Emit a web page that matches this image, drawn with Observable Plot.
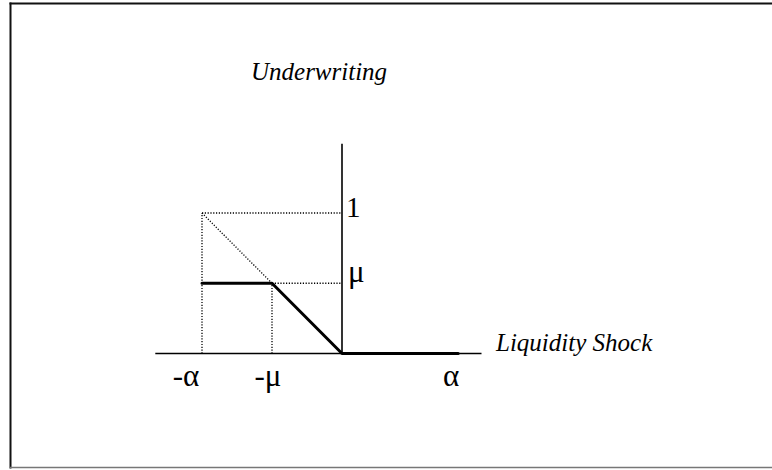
<!DOCTYPE html>
<html>
<head>
<meta charset="utf-8">
<script src="https://cdn.jsdelivr.net/npm/d3@7"></script>
<script src="https://cdn.jsdelivr.net/npm/@observablehq/plot@0.6"></script>
<style>
  html, body { margin: 0; padding: 0; background: #fff; }
  svg { display: block; }
</style>
</head>
<body>
<div id="chart"></div>
<script>
// parameters (alpha = 1, mu = 0.5 in plot units)
const alpha = 1;
const mu = 0.5;

// axes extents
const horizAxisX = [-1.33, 1.0];
const vertAxisY = [0, 1.49];

// payoff (thick) line
const payoffX = [-alpha, -mu, 0, 0.83];
const payoffY = [mu, mu, 0, 0];

// dotted guide segments
const guideX1 = [-alpha, -alpha, -alpha, -mu, -mu];
const guideY1 = [1, 0, 1, mu, 0];
const guideX2 = [0, -alpha, -mu, 0, -mu];
const guideY2 = [1, 1, mu, mu, mu];

// tick labels below the horizontal axis
const tickLabels = ["-α", "-μ", "α"];
const tickLabelX = [-1.114, -0.529, 0.779];
const tickLabelY = [-0.234, -0.234, -0.234];

// labels next to the vertical axis
const vLabels = ["1", "μ"];
const vLabelY = [1, mu];

// axis titles
const yTitle = "Underwriting";
const yTitleX = -0.164;
const yTitleY = 1.95;
const xTitle = "Liquidity Shock";
const xTitleX = 1.1;
const xTitleY = 0.02;

const guides = guideX1.map((x1, i) => ({x1, y1: guideY1[i], x2: guideX2[i], y2: guideY2[i]}));
const payoff = payoffX.map((x, i) => ({x, y: payoffY[i]}));
const ticks = tickLabels.map((t, i) => ({t, x: tickLabelX[i], y: tickLabelY[i]}));
const vlabs = vLabels.map((t, i) => ({t, x: 0, y: vLabelY[i]}));

const font = "Liberation Serif";

const plot = Plot.plot({
  width: 772,
  height: 470,
  marginTop: 3,
  marginLeft: 10,
  marginRight: 0,
  marginBottom: 3,
  x: {domain: [-1, 1], range: [201.5, 481.5], axis: null},
  y: {domain: [0, 1], range: [353, 212.5], axis: null},
  style: {fontFamily: font, background: "#fff"},
  marks: [
    Plot.frame({anchor: "top", stroke: "#111", strokeWidth: 2}),
    Plot.frame({anchor: "left", stroke: "#111", strokeWidth: 2}),
    Plot.frame({anchor: "bottom", stroke: "#777", strokeWidth: 1.5}),
    Plot.link(guides, {x1: "x1", y1: "y1", x2: "x2", y2: "y2", stroke: "#000", strokeWidth: 1.3, strokeDasharray: "1.2,1.6"}),
    Plot.ruleY([0], {x1: horizAxisX[0], x2: horizAxisX[1], stroke: "#000", strokeWidth: 1.6}),
    Plot.ruleX([0], {y1: vertAxisY[0], y2: vertAxisY[1], stroke: "#000", strokeWidth: 1.6}),
    Plot.line(payoff, {x: "x", y: "y", stroke: "#000", strokeWidth: 3}),
    Plot.text(ticks, {x: "x", y: "y", text: "t", fontSize: 31, fontFamily: font, lineAnchor: "bottom", textAnchor: "middle", fill: "#000"}),
    Plot.text(vlabs.slice(0, 1), {x: "x", y: "y", text: "t", fontSize: 29, fontFamily: font, lineAnchor: "bottom", textAnchor: "start", dx: 4, dy: 4, fill: "#000"}),
    Plot.text(vlabs.slice(1), {x: "x", y: "y", text: "t", fontSize: 31, fontFamily: font, lineAnchor: "bottom", textAnchor: "start", dx: 6, dy: -1, fill: "#000"}),
    Plot.text([yTitle], {x: yTitleX, y: yTitleY, text: (d) => d, fontSize: 25, fontFamily: font, fontStyle: "italic", lineAnchor: "bottom", textAnchor: "middle", fill: "#000"}),
    Plot.text([xTitle], {x: xTitleX, y: xTitleY, text: (d) => d, fontSize: 25, fontFamily: font, fontStyle: "italic", lineAnchor: "bottom", textAnchor: "start", fill: "#000"})
  ]
});

document.getElementById("chart").appendChild(plot);
</script>
</body>
</html>
